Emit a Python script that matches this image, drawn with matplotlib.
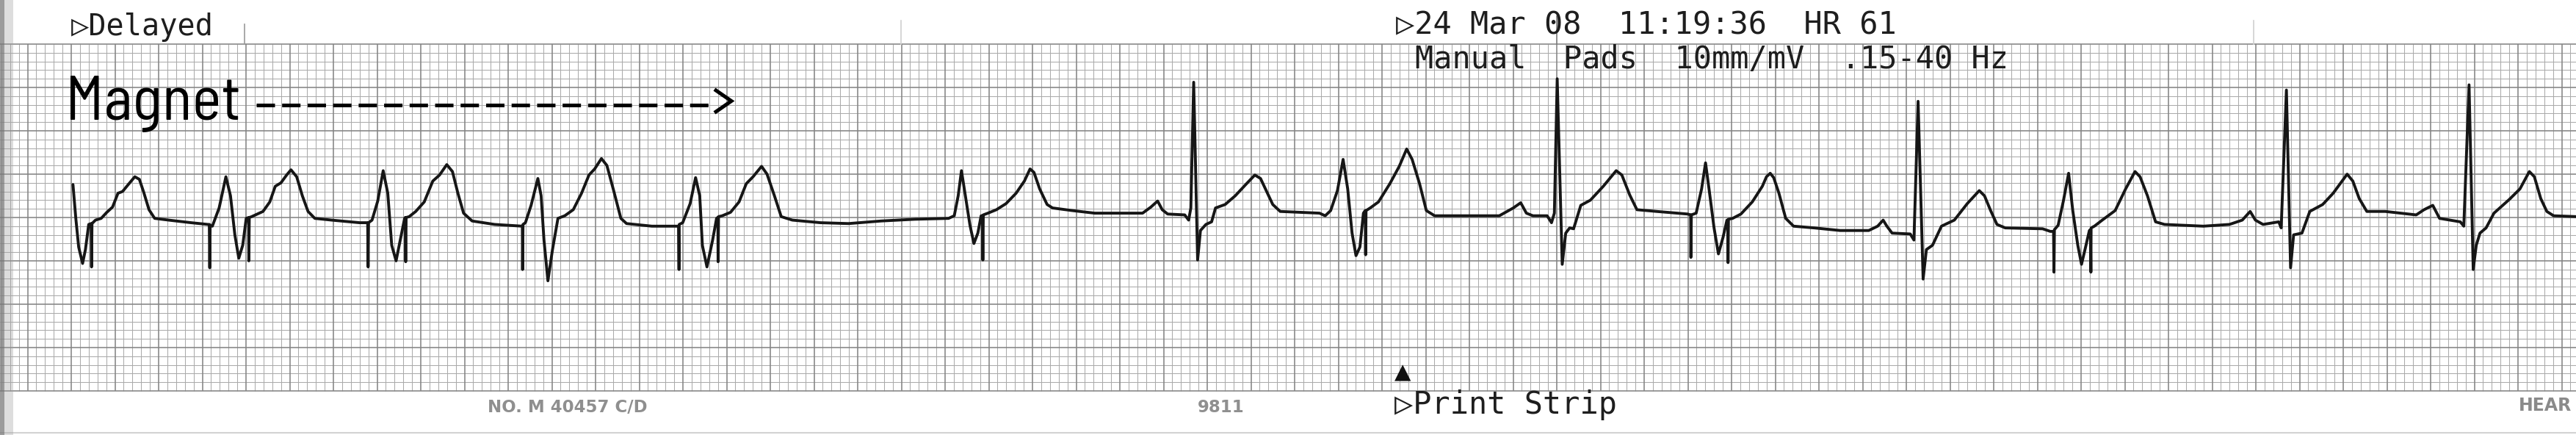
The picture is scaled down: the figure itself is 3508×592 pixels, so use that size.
import numpy as np
import matplotlib
matplotlib.use("Agg")
import matplotlib.pyplot as plt
import matplotlib.transforms as mtransforms
from matplotlib import font_manager
from matplotlib.patches import Rectangle

# ---------------- data ----------------
# ECG trace: time (s) from the first heavy grid line, amplitude (mV)
t_s = [
    0.208, 0.221, 0.234, 0.252, 0.265, 0.280, 0.291, 0.293, 0.295, 0.311, 0.337, 0.363, 0.389, 0.414, 0.435, 0.461,
    0.491, 0.512, 0.532, 0.556, 0.582, 0.646, 0.749, 0.826,
    0.832, 0.834, 0.836, 0.846, 0.877, 0.908, 0.929, 0.949, 0.967, 0.985, 1.001, 1.012, 1.013, 1.015, 1.026, 1.052,
    1.078, 1.109, 1.134, 1.160, 1.186, 1.206, 1.232, 1.258, 1.284, 1.315, 1.392, 1.520, 1.554,
    1.557, 1.559, 1.561, 1.577, 1.603, 1.628, 1.649, 1.667, 1.687, 1.706, 1.726, 1.729, 1.731, 1.733, 1.747, 1.777,
    1.816, 1.855, 1.886, 1.919, 1.945, 1.970, 1.996, 2.035, 2.138, 2.261,
    2.265, 2.266, 2.268, 2.279, 2.305, 2.336, 2.351, 2.364, 2.382, 2.403, 2.428, 2.459, 2.498, 2.536, 2.570, 2.596,
    2.627, 2.652, 2.683, 2.716, 2.742, 2.858, 2.974,
    2.980, 2.982, 2.983, 2.999, 3.033, 3.058, 3.077, 3.089, 3.110, 3.136, 3.154, 3.160, 3.161, 3.163, 3.180, 3.218,
    3.257, 3.290, 3.321, 3.360, 3.385, 3.419, 3.450, 3.501, 3.630, 3.758, 3.908,
    4.062, 4.216, 4.242, 4.260, 4.275, 4.293, 4.314, 4.332, 4.350, 4.365, 4.371, 4.373, 4.375, 4.396, 4.435, 4.479,
    4.525, 4.563, 4.589, 4.607, 4.633, 4.667, 4.692, 4.782, 4.885, 5.104, 5.142, 5.173, 5.194, 5.219, 5.297, 5.315,
    5.325, 5.338, 5.356, 5.369, 5.394, 5.420, 5.438, 5.482, 5.528, 5.580, 5.618, 5.644, 5.670, 5.700, 5.734, 5.914,
    5.940,
    5.965, 5.996, 6.022, 6.043, 6.063, 6.081, 6.099, 6.115, 6.123, 6.125, 6.127, 6.146, 6.184, 6.236, 6.279, 6.313,
    6.338, 6.372, 6.403, 6.441, 6.737, 6.801, 6.835, 6.861, 6.891, 6.956, 6.976, 6.989, 7.002, 7.025, 7.041, 7.059,
    7.077, 7.110, 7.154, 7.213, 7.272, 7.298, 7.334, 7.367, 7.457, 7.599,
    7.613, 7.614, 7.616, 7.638, 7.663, 7.681, 7.697, 7.720, 7.740, 7.761, 7.779, 7.783, 7.784, 7.786, 7.805, 7.843,
    7.895, 7.941, 7.960, 7.977, 7.993, 8.017, 8.048, 8.084, 8.179, 8.297, 8.428, 8.469, 8.494, 8.511, 8.535, 8.618,
    8.635, 8.654, 8.677, 8.692, 8.720, 8.761, 8.820, 8.879, 8.934, 8.958, 8.986, 9.015, 9.053, 9.224, 9.259,
    9.274, 9.276, 9.278, 9.295, 9.319, 9.343, 9.362, 9.385, 9.402, 9.418, 9.438, 9.443, 9.445, 9.446, 9.461, 9.497,
    9.556, 9.604, 9.647, 9.670, 9.704, 9.741, 9.782, 9.960, 10.079, 10.138, 10.174, 10.198, 10.233, 10.305, 10.316,
    10.340, 10.359, 10.373, 10.411, 10.447, 10.506, 10.554, 10.618, 10.644, 10.673, 10.708, 10.792, 10.934, 10.970,
    11.010, 11.041, 11.136, 11.152, 11.176, 11.195, 11.209, 11.226, 11.254, 11.290, 11.361, 11.409, 11.452, 11.475,
    11.504, 11.532, 11.563, 11.666,
]
mv = [
    0.38, -0.01, -0.34, -0.53, -0.37, -0.08, -0.07, -0.57, -0.07, -0.03, -0.01, 0.06, 0.12, 0.28, 0.30, 0.38,
    0.47, 0.44, 0.29, 0.09, -0.01, -0.03, -0.06, -0.08,
    -0.08, -0.58, -0.09, -0.10, 0.11, 0.47, 0.25, -0.20, -0.47, -0.32, -0.01, 0.00, -0.50, 0.00, 0.01, 0.04,
    0.07, 0.18, 0.36, 0.40, 0.49, 0.55, 0.47, 0.25, 0.07, -0.01, -0.03, -0.06, -0.06,
    -0.06, -0.57, -0.06, -0.03, 0.19, 0.54, 0.28, -0.32, -0.50, -0.26, -0.01, 0.00, -0.51, 0.00, 0.01, 0.07,
    0.18, 0.42, 0.49, 0.61, 0.53, 0.28, 0.05, -0.04, -0.08, -0.10,
    -0.10, -0.60, -0.08, -0.06, 0.14, 0.45, 0.25, -0.26, -0.73, -0.37, -0.01, 0.02, 0.09, 0.28, 0.49, 0.56,
    0.68, 0.60, 0.31, -0.01, -0.07, -0.10, -0.10,
    -0.10, -0.60, -0.08, -0.06, 0.16, 0.46, 0.25, -0.32, -0.57, -0.26, -0.01, 0.00, -0.51, 0.01, 0.02, 0.06,
    0.18, 0.39, 0.47, 0.59, 0.50, 0.25, 0.01, -0.03, -0.06, -0.07, -0.04,
    -0.02, -0.01, 0.02, 0.25, 0.54, 0.25, -0.09, -0.30, -0.18, 0.02, 0.02, -0.49, 0.03, 0.05, 0.09, 0.16,
    0.28, 0.42, 0.56, 0.52, 0.33, 0.15, 0.11, 0.08, 0.05, 0.05, 0.12, 0.19, 0.09, 0.04, 0.03, -0.03,
    0.11, 1.56, -0.49, -0.15, -0.08, -0.05, 0.11, 0.15, 0.25, 0.39, 0.49, 0.45, 0.31, 0.15, 0.07, 0.05,
    0.02,
    0.08, 0.31, 0.67, 0.33, -0.18, -0.44, -0.34, 0.05, 0.08, -0.43, 0.08, 0.11, 0.18, 0.39, 0.59, 0.79,
    0.67, 0.39, 0.08, 0.02, 0.02, 0.11, 0.17, 0.05, 0.02, 0.02, -0.06, 0.05, 1.60, -0.54, -0.18, -0.12,
    -0.13, 0.14, 0.20, 0.36, 0.54, 0.49, 0.26, 0.09, 0.07, 0.04,
    0.03, -0.46, 0.03, 0.05, 0.33, 0.63, 0.33, -0.12, -0.42, -0.23, -0.03, -0.03, -0.52, -0.02, -0.01, 0.04,
    0.18, 0.36, 0.47, 0.51, 0.46, 0.28, -0.01, -0.10, -0.12, -0.15, -0.15, -0.10, -0.03, -0.10, -0.18, -0.19,
    -0.26, 1.34, -0.71, -0.37, -0.32, -0.10, -0.03, 0.16, 0.31, 0.25, 0.08, -0.08, -0.12, -0.13, -0.16,
    -0.16, -0.63, -0.14, -0.09, 0.19, 0.51, 0.08, -0.32, -0.54, -0.37, -0.15, -0.14, -0.63, -0.12, -0.10, -0.03,
    0.08, 0.33, 0.53, 0.47, 0.25, -0.05, -0.08, -0.10, -0.08, -0.03, 0.07, -0.03, -0.08, -0.05, -0.12,
    1.47, -0.58, -0.20, -0.18, 0.07, 0.15, 0.28, 0.50, 0.42, 0.22, 0.07, 0.07, 0.03, 0.09,
    0.14, -0.01, -0.05, -0.10, 1.53, -0.60, -0.32, -0.18, -0.12, 0.05, 0.21, 0.33, 0.53, 0.47,
    0.22, 0.07, 0.02, 0.01,
]

header_left = "\u25b7Delayed"
header_right = "\u25b724 Mar 08  11:19:36  HR 61"
header_right2 = "Manual  Pads  10mm/mV  .15-40 Hz"
footer_event = "\u25b7Print Strip"
paper_codes = ["NO. M 40457 C/D", "9811", "HEAR"]
annotation = "Magnet"

# ---------------- layout ----------------
W, H = 3508, 592
PXMM_X, PXMM_Y = 11.9, 11.8     # pixels per mm
X0_PX = 37.5                     # first heavy grid line
GRID_TOP, GRID_BOT = 60, 532     # grid edges in pixels
SPEED, GAIN, BASE_MM = 25.0, 10.0, 20.0
GRID_H_MM = 40

plt.rcParams["lines.scale_dashes"] = False

fig = plt.figure(figsize=(W / 100, H / 100), dpi=100)
fig.patch.set_facecolor("white")
ax = fig.add_axes([0, 0, 1, 1])
ax.set_xlim(-X0_PX / PXMM_X, (W - X0_PX) / PXMM_X)
ax.set_ylim(-(H - GRID_BOT) / PXMM_Y, GRID_BOT / PXMM_Y)
ax.axis("off")

pix = mtransforms.Affine2D().scale(1 / W, -1 / H).translate(0, 1) + fig.transFigure

# ECG paper grid
xmin, xmax = ax.get_xlim()
ks = np.arange(int(np.ceil(xmin)), int(np.floor(xmax)) + 1)
minor_x = [k for k in ks if k % 5]
major_x = [k for k in ks if k % 5 == 0]
ax.vlines(minor_x, 0, GRID_H_MM, color="#ababab", lw=0.75, zorder=1)
ax.hlines([k for k in range(GRID_H_MM + 1) if k % 5], xmin, xmax, color="#ababab", lw=0.75, zorder=1)
ax.vlines(major_x, 0, GRID_H_MM, color="#858585", lw=1.15, zorder=2)
ax.hlines([k for k in range(GRID_H_MM + 1) if k % 5 == 0], xmin, xmax, color="#858585", lw=1.15, zorder=2)

# timing marks above grid
for xm, ytop, col in [(333, 33, "#9a9a9a"), (1227, 28, "#d0d0d0"), (2120, 22, "#7a7a7a"), (3069, 28, "#d0d0d0")]:
    ax.plot([xm, xm], [ytop, GRID_TOP], color=col, lw=1.2, transform=pix, zorder=2)

# paper edge shading on the left and bottom edge
ax.add_patch(Rectangle((0, 0), 6, H, transform=pix, color="#7a7a7a", alpha=0.75, lw=0, zorder=3))
ax.add_patch(Rectangle((6, 0), 12, H, transform=pix, color="#a0a0a0", alpha=0.35, lw=0, zorder=3))
ax.plot([0, W], [589, 589], color="#d2d2d2", lw=1.5, transform=pix, zorder=2)

# ECG trace
x_mm = np.array(t_s) * SPEED
y_mm = BASE_MM + np.array(mv) * GAIN
ax.plot(x_mm, y_mm, color="#161616", lw=2.8, solid_joinstyle="round", solid_capstyle="round", zorder=5)

# printer text
mono = "DejaVu Sans Mono"
fig.text(97, 48, header_left, transform=pix, family=mono, fontsize=29, color="#1e1e1e", va="baseline", ha="left")
fig.text(1901, 46, header_right, transform=pix, family=mono, fontsize=30.2, color="#1e1e1e", va="baseline", ha="left")
fig.text(1927, 93, header_right2, transform=pix, family=mono, fontsize=30.2, color="#1e1e1e", va="baseline", ha="left")
fig.text(1899, 563, footer_event, transform=pix, family=mono, fontsize=30.2, color="#1e1e1e", va="baseline", ha="left")
fig.text(1899, 515, "\u25b2", transform=pix, family="DejaVu Sans", fontsize=21, color="#111111", va="baseline", ha="left")

# paper codes
fig.text(664, 561, paper_codes[0], transform=pix, family="DejaVu Sans", weight="bold", fontsize=16.5,
         color="#8f8f8f", va="baseline", ha="left")
fig.text(1631, 561, paper_codes[1], transform=pix, family="DejaVu Sans", weight="bold", fontsize=16.5,
         color="#8f8f8f", va="baseline", ha="left")
fig.text(3430, 559, paper_codes[2], transform=pix, family="DejaVu Sans", weight="bold", fontsize=17,
         color="#8a8a8a", va="baseline", ha="left")

# Magnet annotation
names = {f.name for f in font_manager.fontManager.ttflist}
if "Barlow Semi Condensed" in names:
    mfam, msize = "Barlow Semi Condensed", 61
elif "Roboto Condensed" in names:
    mfam, msize = "Roboto Condensed", 60
else:
    mfam, msize = "Roboto", 54
fig.text(89, 163, annotation, transform=pix, family=mfam, fontsize=msize, color="#000000", va="baseline", ha="left")
ax.plot([349, 970], [143, 143], color="#000000", lw=3.6, linestyle=(0, (18, 7.0)), dash_capstyle="butt",
        transform=pix, zorder=6)
ax.plot([975, 996, 975], [123, 137.5, 152], color="#000000", lw=3.6, solid_joinstyle="miter",
        transform=pix, zorder=6)

fig.savefig("out.png", dpi=100, facecolor="white")
